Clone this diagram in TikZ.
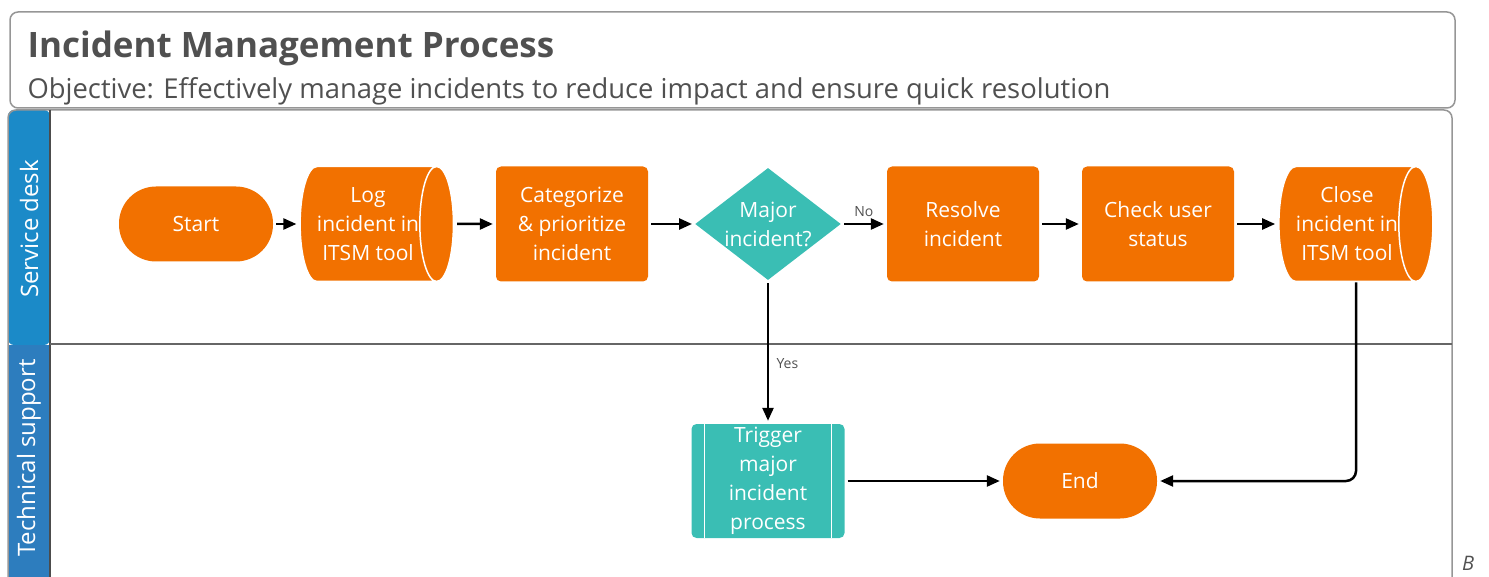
\documentclass[tikz,border=0pt]{standalone}
\usepackage{fontspec}
\setmainfont{Open Sans}
\usetikzlibrary{shapes.geometric,arrows.meta,positioning}

\definecolor{procorange}{RGB}{242,113,0}
\definecolor{decteal}{RGB}{58,190,180}
\definecolor{laneblue}{RGB}{27,138,200}
\definecolor{laneblue2}{RGB}{45,125,190}
\definecolor{framegray}{RGB}{150,150,150}
\definecolor{titlegray}{RGB}{80,80,80}

\tikzset{
	nodetext/.style={text=white, align=center, font=\fontsize{21}{29}\selectfont},
	stepbox/.style={nodetext, rectangle, rounded corners=5pt, fill=procorange, minimum width=152pt, minimum height=115pt, inner sep=0pt},
	terminal/.style={nodetext, rectangle, rounded corners=37pt, fill=procorange, minimum width=154pt, minimum height=75pt, inner sep=0pt},
	dbbox/.style={nodetext, cylinder, shape border rotate=0, aspect=0.46, cylinder uses custom fill, cylinder body fill=procorange, cylinder end fill=procorange, draw=white, line width=1.5pt, minimum width=115pt, minimum height=150pt, inner sep=0pt},
	decision/.style={nodetext, diamond, aspect=1.3, fill=decteal, minimum width=145pt, minimum height=112pt, inner sep=0pt},
	subproc/.style={nodetext, rectangle, rounded corners=5pt, fill=decteal, minimum width=153pt, minimum height=114pt, inner sep=0pt,
		path picture={
			\draw[white, line width=1.5pt] ([xshift=13pt]path picture bounding box.north west) -- ([xshift=13pt]path picture bounding box.south west);
			\draw[white, line width=1.5pt] ([xshift=-13pt]path picture bounding box.north east) -- ([xshift=-13pt]path picture bounding box.south east);
		}},
	flow/.style={line width=2.5pt, -{Triangle[length=13pt,width=11pt]}, shorten <=3pt, shorten >=3pt},
	lanelabel/.style={text=white, rotate=90, font=\fontsize{24}{28}\selectfont},
	edgelabel/.style={text=titlegray, font=\fontsize{14}{16}\selectfont}
}

\begin{document}
\begin{tikzpicture}[x=1pt, y=-1pt]
	\useasboundingbox (0,0) rectangle (1489,577);

	% header
	\draw[framegray, line width=1.5pt, rounded corners=8pt] (10,12) rectangle (1455,108);
	\node[anchor=west, text=titlegray, font=\fontsize{35}{40}\selectfont\bfseries] (title) at (24,48) {Incident Management Process};
	\node[anchor=west, text=titlegray, font=\fontsize{27.4}{32}\selectfont] (subtitle) at (24,91) {Objective: Effectively manage incidents to reduce impact and ensure quick resolution};

	% lanes
	\fill[laneblue, rounded corners=6pt] (8,345) -- (8,110) -- (50,110) -- (50,345) -- cycle;
	\fill[laneblue2] (8,345) rectangle (50,600);
	\draw[framegray, line width=1.5pt, rounded corners=8pt] (8,600) -- (8,110) -- (1452,110) -- (1452,600);
	\draw[black!70, line width=1.2pt] (50,110) -- (50,600);
	\draw[black!60, line width=1.2pt] (50,344) -- (1452,344);
	\node[lanelabel] (service) at (29,229) {Service desk};
	\node[lanelabel] (techsupport) at (29,458) {Technical support};

	% service desk lane
	\node[terminal] (start) at (196,224) {Start};
	\node[dbbox] (log) at (368,224) {Log\\incident in\\ITSM tool};
	\node[stepbox] (categorize) at (572,224) {Categorize\\\& prioritize\\incident};
	\node[decision] (major) at (768,224) {Major\\incident?};
	\node[stepbox] (resolve) at (963,224) {Resolve\\incident};
	\node[stepbox] (check) at (1158,224) {Check user\\status};
	\node[dbbox] (close) at (1347,224) {Close\\incident in\\ITSM tool};

	% technical support lane
	\node[subproc] (trigger) at (768,481) {Trigger\\major\\incident\\process};
	\node[terminal] (end) at (1080,481) {End};

	\draw[flow] (start) -- (log);
	\draw[flow] (log) -- (categorize);
	\draw[flow] (categorize) -- (major);
	\draw[flow] (major) -- node[edgelabel, above, yshift=3pt] {No} (resolve);
	\draw[flow] (resolve) -- (check);
	\draw[flow] (check) -- (close);
	\draw[flow] (major) -- node[edgelabel, right, pos=0.58, xshift=4pt] {Yes} (trigger);
	\draw[flow] (trigger) -- (end);
	\draw[flow, rounded corners=10pt, shorten <=0pt] ([xshift=9pt]close.south) |- (end.east);

	\node[anchor=base west, inner sep=0pt, text=titlegray, font=\fontsize{20}{20}\selectfont\itshape] (cutmark) at (1462,570) {B};
\end{tikzpicture}
\end{document}
